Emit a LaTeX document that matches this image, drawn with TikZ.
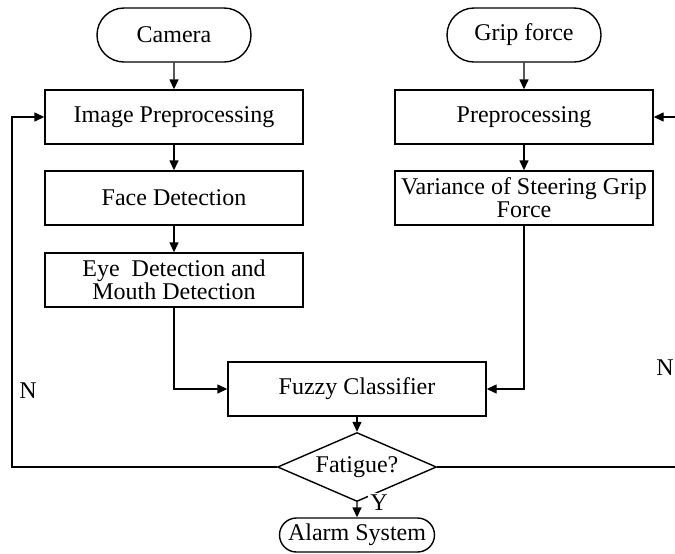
\documentclass[tikz,border=0pt]{standalone}
\usepackage{fontspec}
\setmainfont{Liberation Serif}
\usetikzlibrary{shapes.geometric,shapes.misc,arrows.meta}

\begin{document}
\begin{tikzpicture} [x=0.5pt, y=-0.5pt,
    font=\fontsize{12}{11.5}\selectfont,
    line width=0.7pt,
    >={Triangle[length=5pt,width=4.5pt]},
    box/.style = {draw,
    rectangle,
    minimum width = 129pt,
    minimum height = 27pt,
    inner sep = 2pt,
    align = center},
    term/.style = {draw,
    rounded rectangle,
    minimum width = 81pt,
    minimum height = 27pt,
    inner sep = 2pt},
    test/.style = {draw,
    diamond,
    aspect = 2.3,
    minimum width = 79.5pt,
    minimum height = 34.5pt,
    inner sep = 0pt}]

\clip (0,0) rectangle (675,553);

\node (Cam) at (174,35) [term] {Camera};
\node (Grip) at (524,35) [term] {Grip force};

\node (ImgPre) at (174,117) [box] {Image Preprocessing};
\node (Face) at (174,198) [box] {Face Detection};
\node (Eye) at (174,280) [box] {Eye\ \ Detection and\\Mouth Detection};

\node (Pre) at (524,117) [box] {Preprocessing};
\node (Var) at (524,198) [box] {Variance of Steering Grip\\Force};

\node (Fuzzy) at (357,389) [box] {Fuzzy Classifier};
\node (Fat) at (357,467) [test] {Fatigue?};
\node (Alarm) at (357,535) [term, minimum width = 81.5pt, minimum height = 17pt] {Alarm System};

\coordinate (LL) at (12,467);
\coordinate (RL) at (690,467);

\draw [->] (Cam) -- (ImgPre);
\draw [->] (ImgPre) -- (Face);
\draw [->] (Face) -- (Eye);
\draw [->] (Grip) -- (Pre);
\draw [->] (Pre) -- (Var);
\draw [->] (Eye) |- (Fuzzy);
\draw [->] (Var) |- (Fuzzy);
\draw [->] (Fuzzy) -- (Fat);
\draw [->] (Fat) -- (Alarm);
\draw [->] (Fat.west) -- (LL) |- (ImgPre.west);
\draw [->] (Fat.east) -- (RL) |- (Pre.east);

\node (Y) at (379,503) [fill=white, inner sep=1pt] {Y};
\node (NL) at (28,391) {N};
\node (NR) at (665,368) {N};

\end{tikzpicture}
\end{document}
